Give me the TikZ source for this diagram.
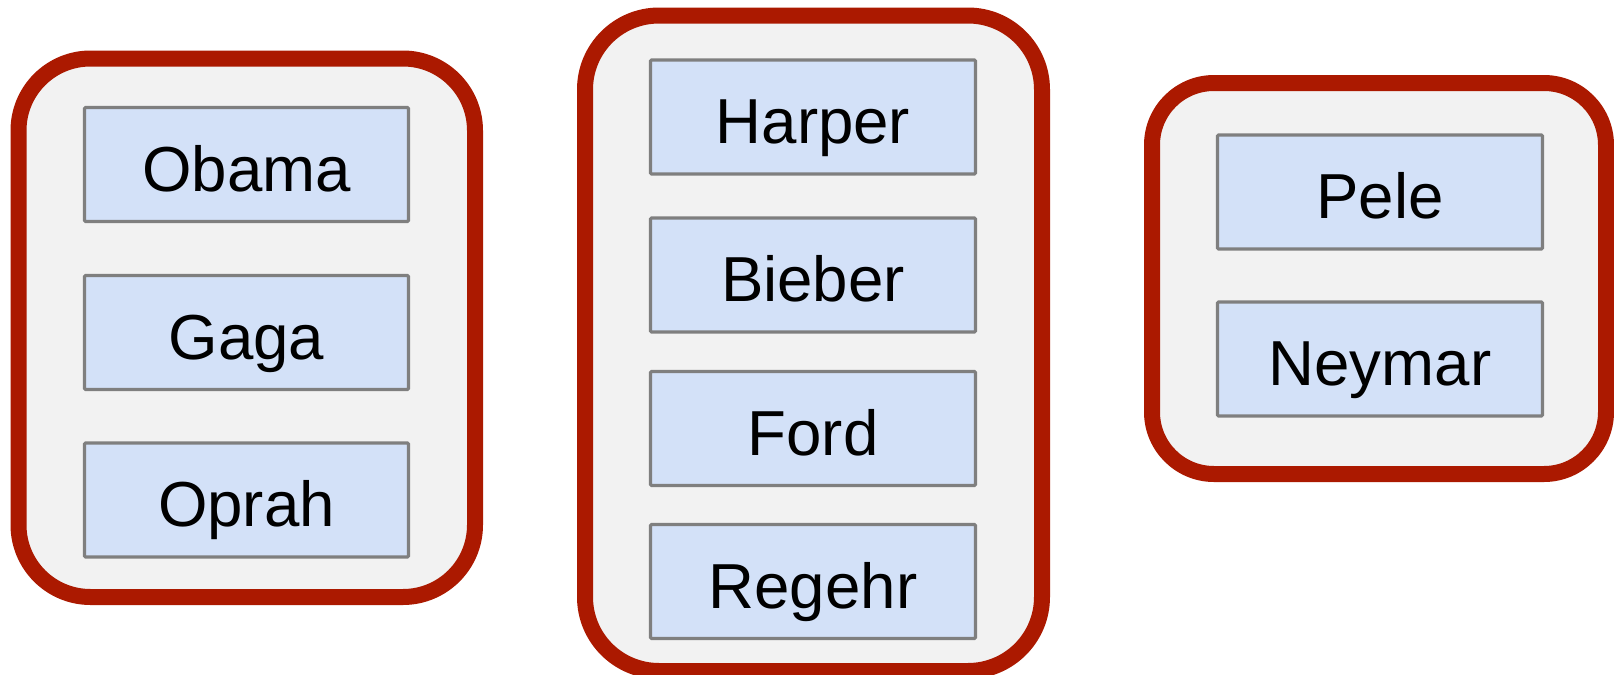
\documentclass[tikz,border=0pt]{standalone}
\usepackage{fontspec}
\setmainfont{Liberation Sans}
\definecolor{groupred}{HTML}{AB1900}
\definecolor{groupfill}{HTML}{F2F2F2}
\definecolor{namefill}{HTML}{D3E1F8}
\definecolor{namegray}{HTML}{7F7F7F}
\begin{document}
\begin{tikzpicture}[x=0.5pt,y=-0.5pt,
  groupbox/.style={draw=groupred, fill=groupfill, line width=8pt, inner sep=0pt, outer sep=0pt},
  namebox/.style={draw=namegray, fill=namefill, line width=1.6pt, inner sep=0pt,
    rounded corners=0.6pt,
    minimum width=162.5pt, minimum height=57pt, text height=29.5pt, text depth=3pt,
    font=\fontsize{31.8}{38}\selectfont}]
\useasboundingbox (0,0) rectangle (1614,675);

% group frames
\node[groupbox, rounded corners=36pt, minimum width=228.25pt, minimum height=269.25pt] (g1) at (246.75,327.75) {};
\node[groupbox, rounded corners=37pt, minimum width=228.5pt, minimum height=327.75pt] (g2) at (813.5,343.25) {};
\node[groupbox, rounded corners=31pt, minimum width=227pt, minimum height=195.5pt] (g3) at (1379,278.5) {};

% first group
\node[namebox, minimum width=162pt] (obama) at (246.5,164.5) {Obama};
\node[namebox, minimum width=162pt] (gaga)  at (246.5,332.5) {Gaga};
\node[namebox, minimum width=162pt] (oprah) at (246.5,500) {Oprah};

% second group
\node[namebox] (harper) at (813,117) {Harper};
\node[namebox] (bieber) at (813,275) {Bieber};
\node[namebox] (ford)   at (813,428.5) {Ford};
\node[namebox] (regehr) at (813,581.5) {Regehr};

% third group
\node[namebox] (pele)   at (1380,192) {Pele};
\node[namebox] (neymar) at (1380,359) {Neymar};
\end{tikzpicture}
\end{document}
